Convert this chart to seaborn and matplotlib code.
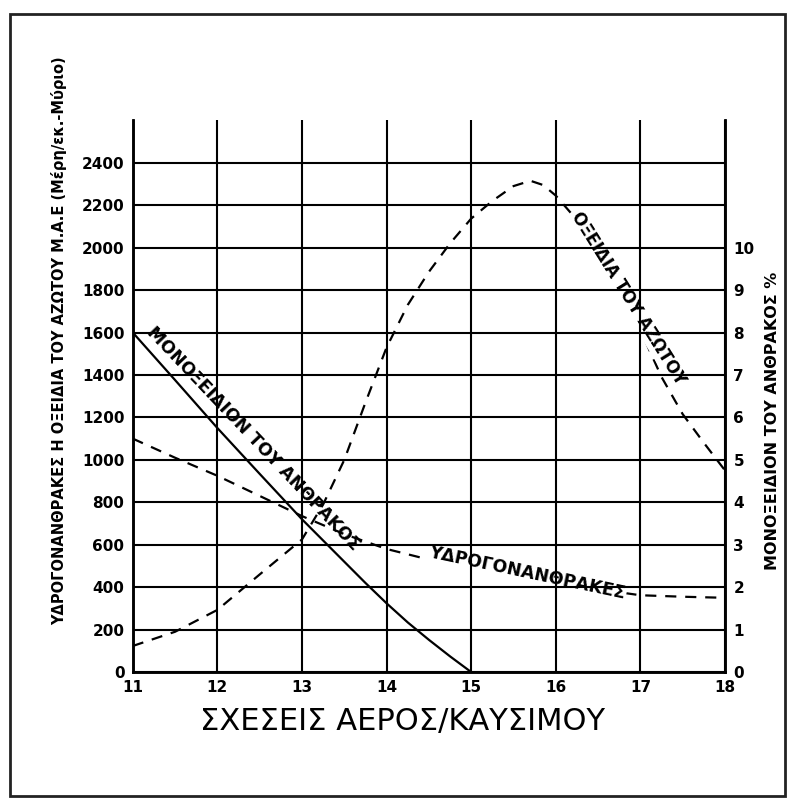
import seaborn as sns
import matplotlib.pyplot as plt
from matplotlib.patches import Rectangle

# air/fuel ratio vs. carbon monoxide (%)
afr_co = [11, 11.5, 12, 12.5, 13, 13.5, 13.75, 14, 14.25, 14.5, 14.75, 15]
co_pct = [8.0, 6.88, 5.75, 4.67, 3.6, 2.6, 2.1, 1.62, 1.17, 0.76, 0.37, 0.0]

# hydrocarbons (ppm)
afr_hc = [11, 11.5, 12, 12.5, 13, 13.5, 14, 14.5, 15, 15.5, 16, 16.5, 17, 17.5, 18]
hc_ppm = [1100, 1010, 925, 830, 735, 650, 580, 530, 500, 470, 425, 390, 362, 355, 350]

# nitrogen oxides (ppm)
afr_nox = [11, 11.5, 12, 12.5, 13, 13.25, 13.5, 13.75, 14, 14.25, 14.5, 14.75, 15,
           15.25, 15.5, 15.7, 15.85, 16, 16.25, 16.5, 16.75, 17, 17.25, 17.5, 17.75, 18]
nox_ppm = [123, 190, 293, 460, 625, 790, 1000, 1270, 1530, 1730, 1886, 2020, 2137,
           2220, 2290, 2315, 2295, 2245, 2130, 1980, 1800, 1610, 1390, 1215, 1080, 950]

x_ticks = [11, 12, 13, 14, 15, 16, 17, 18]
left_ticks = [0, 200, 400, 600, 800, 1000, 1200, 1400, 1600, 1800, 2000, 2200, 2400]
right_ticks = [0, 1, 2, 3, 4, 5, 6, 7, 8, 9, 10]

sns.set_style("white")
plt.rcParams['font.family'] = ['DejaVu Sans']
plt.rcParams['text.color'] = 'black'
plt.rcParams['axes.labelcolor'] = 'black'
plt.rcParams['xtick.color'] = 'black'
plt.rcParams['ytick.color'] = 'black'

fig = plt.figure(figsize=(7.95, 8.02), dpi=100)
fig.patch.set_facecolor('white')
fig.add_artist(Rectangle((0.012, 0.008), 0.976, 0.975, transform=fig.transFigure,
                         fill=False, edgecolor='#222222', linewidth=2))

ax = fig.add_axes([0.167, 0.162, 0.745, 0.688])
ax2 = ax.twinx()

dash = (0, (5, 4))
sns.lineplot(x=afr_hc, y=hc_ppm, ax=ax, color='black', linewidth=1.6, linestyle=dash)
sns.lineplot(x=afr_nox, y=nox_ppm, ax=ax, color='black', linewidth=1.6, linestyle=dash)
sns.lineplot(x=afr_co, y=co_pct, ax=ax2, color='black', linewidth=1.6)
ax2.plot([17.32, 18], [2, 2], color='black', linewidth=1.4)

ax.set_xlim(11, 18)
ax.set_ylim(0, 2600)
ax2.set_ylim(0, 13)

ax.set_xticks(x_ticks)
ax.set_yticks(left_ticks)
ax2.set_yticks(right_ticks)
ax.set_xticklabels([str(v) for v in x_ticks], fontsize=11, fontweight='bold')
ax.set_yticklabels([str(v) for v in left_ticks], fontsize=11, fontweight='bold')
ax2.set_yticklabels([str(v) for v in right_ticks], fontsize=11, fontweight='bold')

ax.set_axisbelow(False)
ax.grid(True, color='black', linewidth=1.5)
ax2.grid(False)
for a in (ax, ax2):
    a.spines['top'].set_visible(False)
    for s in ('left', 'right', 'bottom'):
        a.spines[s].set_color('black')
        a.spines[s].set_linewidth(1.8)
ax.tick_params(axis='both', length=0, pad=6)
ax2.tick_params(axis='y', length=0, pad=6)

ax.set_xlabel('ΣΧΕΣΕΙΣ ΑΕΡΟΣ/ΚΑΥΣΙΜΟΥ', fontsize=22)
ax.xaxis.set_label_coords(0.455, -0.063)
ax.set_ylabel('ΥΔΡΟΓΟΝΑΝΘΡΑΚΕΣ Η ΟΞΕΙΔΙΑ ΤΟΥ ΑΖΩΤΟΥ Μ.Α.Ε (Μέρη/εκ.-Μύριο)',
              fontsize=10.5, fontweight='bold')
ax.yaxis.set_label_coords(-0.11, 0.6)
ax2.set_ylabel('ΜΟΝΟΞΕΙΔΙΟΝ ΤΟΥ ΑΝΘΡΑΚΟΣ %', fontsize=11.5, fontweight='bold')
ax2.yaxis.set_label_coords(1.068, 0.456)

# curve labels
ax2.text(12.42, 5.5, 'ΜΟΝΟΞΕΙΔΙΟΝ ΤΟΥ ΑΝΘΡΑΚΟΣ', rotation=-46.5, fontsize=12.5,
         fontweight='bold', ha='center', va='center', rotation_mode='anchor')
ax.text(16.86, 1761, 'ΟΞΕΙΔΙΑ ΤΟΥ ΑΖΩΤΟΥ', rotation=-58, fontsize=12,
        fontweight='bold', ha='center', va='center', rotation_mode='anchor',
        zorder=2.2, bbox=dict(facecolor='white', edgecolor='none', pad=1))
ax.text(15.66, 469, 'ΥΔΡΟΓΟΝΑΝΘΡΑΚΕΣ', rotation=-12, fontsize=12.5,
        fontweight='bold', ha='center', va='center', rotation_mode='anchor',
        zorder=2.2, bbox=dict(facecolor='white', edgecolor='none', pad=1))

fig.savefig('out.png', dpi=100)
